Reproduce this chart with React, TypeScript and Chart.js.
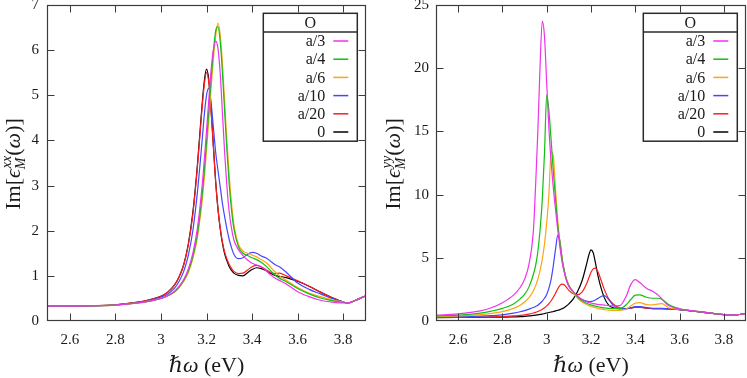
import React, { useEffect, useRef } from "react";
import { Chart, registerables } from "chart.js";

Chart.register(...registerables);

const SERIF = '"Liberation Serif", "DejaVu Serif", serif';

const seriesLabels = ["a/3", "a/4", "a/6", "a/10", "a/20", "0"];
const seriesColors = ["#ee33ee", "#11c011", "#ffa514", "#4646ff", "#ff1c1c", "#000000"];
const legendTitle = "O";

// ---------- left panel: Im[eps_M^xx] ----------
const xxEnergy = [2.5, 2.6, 2.7, 2.8, 2.9, 2.95, 3.0, 3.03, 3.06, 3.08, 3.1, 3.12, 3.14, 3.16, 3.18, 3.19, 3.2, 3.21, 3.22, 3.23, 3.24, 3.25, 3.26, 3.27, 3.28, 3.29, 3.3, 3.31, 3.32, 3.34, 3.36, 3.38, 3.4, 3.42, 3.44, 3.46, 3.48, 3.5, 3.52, 3.55, 3.6, 3.65, 3.7, 3.75, 3.8, 3.82, 3.85, 3.9];
const xxA3 = [0.33, 0.33, 0.335, 0.35, 0.4, 0.44, 0.5, 0.56, 0.66, 0.77, 0.92, 1.15, 1.5, 2.05, 2.95, 3.55, 4.2, 4.9, 5.55, 6.0, 6.2, 6.05, 5.5, 4.6, 3.7, 2.95, 2.4, 2.05, 1.8, 1.58, 1.45, 1.35, 1.28, 1.24, 1.2, 1.12, 1.03, 0.95, 0.9, 0.82, 0.65, 0.54, 0.46, 0.42, 0.4, 0.4, 0.45, 0.56];
const xxA4 = [0.33, 0.33, 0.335, 0.35, 0.4, 0.44, 0.5, 0.56, 0.65, 0.75, 0.9, 1.1, 1.42, 1.92, 2.75, 3.3, 3.95, 4.65, 5.35, 5.95, 6.42, 6.52, 6.2, 5.5, 4.6, 3.75, 3.0, 2.45, 2.05, 1.65, 1.5, 1.45, 1.4, 1.36, 1.3, 1.22, 1.12, 1.02, 0.95, 0.87, 0.72, 0.6, 0.51, 0.45, 0.41, 0.4, 0.45, 0.56];
const xxA6 = [0.33, 0.33, 0.335, 0.35, 0.4, 0.44, 0.5, 0.56, 0.64, 0.74, 0.88, 1.07, 1.38, 1.85, 2.62, 3.15, 3.78, 4.45, 5.15, 5.8, 6.3, 6.6, 6.35, 5.7, 4.8, 3.95, 3.2, 2.6, 2.15, 1.7, 1.55, 1.5, 1.46, 1.42, 1.36, 1.3, 1.2, 1.09, 1.0, 0.9, 0.74, 0.62, 0.54, 0.47, 0.42, 0.4, 0.45, 0.56];
const xxA10 = [0.33, 0.33, 0.34, 0.355, 0.41, 0.455, 0.53, 0.6, 0.73, 0.88, 1.1, 1.45, 2.0, 2.85, 3.95, 4.55, 5.0, 5.16, 4.85, 4.3, 3.75, 3.35, 2.98, 2.6, 2.3, 2.03, 1.8, 1.62, 1.48, 1.38, 1.4, 1.48, 1.52, 1.5, 1.44, 1.4, 1.33, 1.25, 1.2, 1.08, 0.84, 0.7, 0.6, 0.5, 0.42, 0.4, 0.45, 0.56];
const xxA20 = [0.33, 0.33, 0.34, 0.36, 0.42, 0.47, 0.55, 0.64, 0.8, 0.98, 1.24, 1.68, 2.36, 3.4, 4.68, 5.22, 5.5, 5.28, 4.65, 3.88, 3.1, 2.5, 2.07, 1.75, 1.52, 1.37, 1.25, 1.16, 1.1, 1.05, 1.06, 1.13, 1.2, 1.23, 1.2, 1.14, 1.08, 1.05, 1.06, 1.0, 0.89, 0.77, 0.64, 0.52, 0.42, 0.4, 0.45, 0.56];
const xxZero = [0.33, 0.33, 0.34, 0.36, 0.42, 0.47, 0.55, 0.64, 0.8, 0.98, 1.25, 1.7, 2.4, 3.45, 4.75, 5.3, 5.58, 5.35, 4.7, 3.9, 3.1, 2.5, 2.05, 1.72, 1.48, 1.33, 1.2, 1.12, 1.06, 1.01, 1.0, 1.07, 1.14, 1.18, 1.16, 1.12, 1.06, 1.01, 0.99, 0.96, 0.88, 0.77, 0.64, 0.52, 0.42, 0.4, 0.45, 0.56];

// ---------- right panel: Im[eps_M^yy] ----------
const yyEnergy = [2.5, 2.6, 2.7, 2.75, 2.8, 2.85, 2.88, 2.9, 2.92, 2.94, 2.95, 2.96, 2.97, 2.98, 2.99, 3.0, 3.01, 3.02, 3.03, 3.04, 3.05, 3.06, 3.07, 3.08, 3.09, 3.1, 3.12, 3.14, 3.16, 3.18, 3.19, 3.2, 3.21, 3.22, 3.23, 3.24, 3.26, 3.28, 3.3, 3.33, 3.36, 3.38, 3.4, 3.42, 3.45, 3.48, 3.5, 3.52, 3.55, 3.6, 3.65, 3.7, 3.75, 3.8, 3.85, 3.9];
const yyA3 = [0.47, 0.56, 0.8, 1.05, 1.45, 2.05, 2.65, 3.3, 4.5, 7.2, 10.8, 15.0, 20.2, 23.7, 22.5, 18.8, 15.2, 12.6, 10.5, 8.8, 7.2, 5.8, 4.6, 3.8, 3.15, 2.75, 2.3, 1.95, 1.7, 1.52, 1.46, 1.42, 1.38, 1.35, 1.32, 1.3, 1.26, 1.22, 1.2, 1.22, 2.0, 2.9, 3.28, 3.05, 2.6, 2.33, 2.1, 1.75, 1.22, 0.97, 0.82, 0.72, 0.6, 0.5, 0.48, 0.6];
const yyA4 = [0.4, 0.47, 0.62, 0.78, 1.0, 1.35, 1.75, 2.1, 2.7, 3.7, 4.4, 5.5, 7.2, 9.6, 13.3, 17.9, 16.6, 14.3, 11.8, 9.6, 7.6, 6.1, 4.8, 3.9, 3.25, 2.8, 2.3, 1.9, 1.6, 1.4, 1.33, 1.27, 1.22, 1.18, 1.14, 1.1, 1.04, 1.0, 0.98, 0.98, 1.3, 1.7, 2.05, 2.07, 1.88, 1.8, 1.8, 1.72, 1.3, 0.96, 0.82, 0.72, 0.6, 0.5, 0.48, 0.6];
const yyA6 = [0.35, 0.4, 0.5, 0.6, 0.74, 1.0, 1.25, 1.5, 1.85, 2.4, 2.8, 3.3, 4.0, 4.9, 6.1, 7.8, 10.0, 13.4, 13.0, 10.4, 7.9, 6.2, 4.9, 3.95, 3.3, 2.85, 2.25, 1.8, 1.5, 1.3, 1.22, 1.15, 1.1, 1.05, 1.0, 0.96, 0.9, 0.85, 0.83, 0.84, 0.95, 1.2, 1.42, 1.45, 1.3, 1.28, 1.33, 1.38, 1.05, 0.93, 0.82, 0.72, 0.6, 0.5, 0.48, 0.6];
const yyA10 = [0.3, 0.33, 0.38, 0.42, 0.48, 0.62, 0.73, 0.82, 0.94, 1.07, 1.15, 1.25, 1.4, 1.58, 1.8, 2.1, 2.6, 3.3, 4.4, 5.7, 6.8, 6.3, 4.9, 3.9, 3.2, 2.75, 2.3, 1.95, 1.7, 1.57, 1.54, 1.54, 1.58, 1.66, 1.77, 1.88, 2.0, 1.7, 1.25, 0.98, 0.98, 1.05, 1.13, 1.13, 1.06, 1.01, 1.0, 1.0, 0.96, 0.9, 0.8, 0.7, 0.6, 0.5, 0.48, 0.6];
const yyA20 = [0.28, 0.29, 0.31, 0.32, 0.34, 0.4, 0.44, 0.48, 0.55, 0.63, 0.68, 0.75, 0.83, 0.93, 1.05, 1.2, 1.38, 1.6, 1.88, 2.2, 2.55, 2.82, 2.92, 2.85, 2.65, 2.42, 2.15, 2.08, 2.3, 2.95, 3.4, 3.85, 4.12, 4.18, 3.95, 3.5, 2.5, 1.75, 1.35, 1.05, 0.98, 1.02, 1.08, 1.08, 1.02, 0.98, 0.97, 0.98, 0.96, 0.9, 0.8, 0.7, 0.6, 0.5, 0.48, 0.6];
const yyZero = [0.27, 0.28, 0.29, 0.3, 0.31, 0.33, 0.35, 0.37, 0.4, 0.44, 0.46, 0.49, 0.52, 0.55, 0.59, 0.63, 0.67, 0.71, 0.75, 0.8, 0.85, 0.9, 0.98, 1.07, 1.2, 1.35, 1.75, 2.35, 3.2, 4.5, 5.2, 5.63, 5.4, 4.6, 3.7, 2.95, 1.85, 1.25, 1.05, 0.98, 0.98, 1.03, 1.1, 1.1, 1.03, 0.98, 0.97, 0.98, 0.96, 0.9, 0.8, 0.7, 0.6, 0.5, 0.48, 0.6];

// ---------- axes ----------
const energyMin = 2.5;
const energyMax = 3.9;
const energyTicks = [2.6, 2.8, 3.0, 3.2, 3.4, 3.6, 3.8];
const xxMax = 7;
const xxTicks = [0, 1, 2, 3, 4, 5, 6, 7];
const yyMax = 25;
const yyTicks = [0, 5, 10, 15, 20, 25];

function fmtTick(v: number) {
  return String(Math.round(v * 10) / 10);
}

function drawYTitle(ctx: CanvasRenderingContext2D, baseX: number, cy: number, sup: string) {
  const big = 22;
  const small = 14;
  const up = `${big}px ${SERIF}`;
  const it = `italic ${big}px ${SERIF}`;
  const sIt = `italic ${small}px ${SERIF}`;
  ctx.save();
  ctx.translate(baseX, cy);
  ctx.rotate(-Math.PI / 2);
  ctx.fillStyle = "#1a1a1a";
  ctx.textBaseline = "alphabetic";
  ctx.textAlign = "left";
  const w = (t: string, f: string) => {
    ctx.font = f;
    return ctx.measureText(t).width;
  };
  const wSup = w(sup, sIt);
  const wSub = w("M", sIt);
  const stackW = Math.max(wSup, wSub) + 1;
  const pieces: [string, string][] = [["Im[", up], ["\u03F5", it]];
  const tail: [string, string][] = [["(", up], ["\u03C9", it], [")]", up]];
  let total = 0;
  pieces.forEach(([t, f]) => (total += w(t, f)));
  total += stackW;
  tail.forEach(([t, f]) => (total += w(t, f)));
  let x = -total / 2;
  pieces.forEach(([t, f]) => {
    ctx.font = f;
    ctx.fillText(t, x, 0);
    x += ctx.measureText(t).width;
  });
  ctx.font = sIt;
  ctx.fillText(sup, x + 1, -9);
  ctx.fillText("M", x, 5);
  x += stackW;
  tail.forEach(([t, f]) => {
    ctx.font = f;
    ctx.fillText(t, x, 0);
    x += ctx.measureText(t).width;
  });
  ctx.restore();
}

function drawXTitle(ctx: CanvasRenderingContext2D, cx: number, baseY: number) {
  const f1 = `italic 22px ${SERIF}`;
  const f2 = `22px ${SERIF}`;
  const t1 = "\u210F\u03C9";
  const t2 = " (eV)";
  ctx.save();
  ctx.fillStyle = "#1a1a1a";
  ctx.textBaseline = "alphabetic";
  ctx.textAlign = "left";
  ctx.font = f1;
  const w1 = ctx.measureText(t1).width;
  ctx.font = f2;
  const w2 = ctx.measureText(t2).width;
  const x = cx - (w1 + w2) / 2;
  ctx.font = f1;
  ctx.fillText(t1, x, baseY);
  ctx.font = f2;
  ctx.fillText(t2, x + w1, baseY);
  ctx.restore();
}

const gnuplotPlugin = {
  id: "gnuplotFrame",
  afterDraw(chart: any, _args: any, opts: any) {
    const { ctx, chartArea: a } = chart;
    const xs = chart.scales.x;
    const ys = chart.scales.y;
    const L = Math.round(a.left) + 0.5;
    const R = Math.round(a.right) - 0.5;
    const T = Math.round(a.top) + 0.5;
    const B = Math.round(a.bottom) - 0.5;
    const tick = 7;
    ctx.save();
    ctx.strokeStyle = "#3c3c3c";
    ctx.lineWidth = 1;
    ctx.beginPath();
    xs.ticks.forEach((t: any) => {
      if (Math.abs(t.value - xs.min) < 1e-6 || Math.abs(t.value - xs.max) < 1e-6) return;
      const p = Math.round(xs.getPixelForValue(t.value)) + 0.5;
      ctx.moveTo(p, B);
      ctx.lineTo(p, B - tick);
      ctx.moveTo(p, T);
      ctx.lineTo(p, T + tick);
    });
    ys.ticks.forEach((t: any) => {
      if (Math.abs(t.value - ys.min) < 1e-6 || Math.abs(t.value - ys.max) < 1e-6) return;
      const p = Math.round(ys.getPixelForValue(t.value)) + 0.5;
      ctx.moveTo(L, p);
      ctx.lineTo(L + tick, p);
      ctx.moveTo(R, p);
      ctx.lineTo(R - tick, p);
    });
    ctx.stroke();
    ctx.lineWidth = 1.2;
    ctx.strokeRect(L, T, R - L, B - T);

    // legend box
    const bw = 94;
    const headH = 18.7;
    const rowH = 18.2;
    const n = chart.data.datasets.length;
    const bx = R - 8.2 - bw;
    const by = T + 7.8;
    const bh = headH + n * rowH;
    ctx.fillStyle = "#ffffff";
    ctx.fillRect(bx, by, bw, bh);
    ctx.strokeStyle = "#2a2a2a";
    ctx.lineWidth = 1.5;
    ctx.strokeRect(bx, by, bw, bh);
    ctx.beginPath();
    ctx.moveTo(bx, by + headH);
    ctx.lineTo(bx + bw, by + headH);
    ctx.stroke();
    ctx.fillStyle = "#1a1a1a";
    ctx.font = `16px ${SERIF}`;
    ctx.textBaseline = "middle";
    ctx.textAlign = "center";
    ctx.fillText(opts.title, bx + bw / 2, by + headH / 2 + 1);
    ctx.textAlign = "right";
    chart.data.datasets.forEach((ds: any, i: number) => {
      const cy = by + headH + 9 + i * rowH;
      ctx.fillStyle = "#1a1a1a";
      ctx.fillText(ds.label, bx + 62, cy + 1);
      ctx.strokeStyle = ds.borderColor;
      ctx.lineWidth = 1.5;
      ctx.beginPath();
      ctx.moveTo(bx + 70, cy);
      ctx.lineTo(bx + 85, cy);
      ctx.stroke();
    });
    ctx.restore();

    drawYTitle(ctx, 20, (a.top + a.bottom) / 2 + 1, opts.sup);
    drawXTitle(ctx, (a.left + a.right) / 2, a.bottom + 51);
  },
};

function buildConfig(
  energies: number[],
  values: number[][],
  yMax: number,
  yTicks: number[],
  axisW: number,
  padRight: number,
  labelPad: number,
  sup: string
): any {
  const tickFont = { family: SERIF, size: 15 };
  const zeroPad = (s: any) => {
    s.paddingLeft = 0;
    s.paddingRight = 0;
    s.paddingTop = 0;
    s.paddingBottom = 0;
  };
  return {
    type: "line",
    data: {
      datasets: values.map((arr, i) => ({
        label: seriesLabels[i],
        data: energies.map((x, j) => ({ x, y: arr[j] })),
        borderColor: seriesColors[i],
        backgroundColor: seriesColors[i],
        borderWidth: 1.2,
        pointRadius: 0,
        fill: false,
        cubicInterpolationMode: "monotone",
      })),
    },
    options: {
      responsive: false,
      maintainAspectRatio: false,
      animation: false,
      layout: { padding: { left: 0, right: padRight, top: 5, bottom: 0 } },
      plugins: {
        legend: { display: false },
        tooltip: { enabled: false },
        gnuplotFrame: { sup, title: legendTitle },
      },
      scales: {
        x: {
          type: "linear",
          min: energyMin,
          max: energyMax,
          grid: { display: false, drawTicks: false },
          border: { display: false },
          afterBuildTicks: (s: any) => {
            s.ticks = energyTicks.map((v) => ({ value: v }));
          },
          ticks: {
            autoSkip: false,
            maxRotation: 0,
            padding: 10,
            color: "#1a1a1a",
            font: tickFont,
            callback: (v: number) => fmtTick(v),
          },
          afterFit: (s: any) => {
            s.height = 57;
            zeroPad(s);
          },
        },
        y: {
          type: "linear",
          min: 0,
          max: yMax,
          grid: { display: false, drawTicks: false },
          border: { display: false },
          afterBuildTicks: (s: any) => {
            s.ticks = yTicks.map((v) => ({ value: v }));
          },
          ticks: {
            autoSkip: false,
            padding: labelPad,
            color: "#1a1a1a",
            font: tickFont,
            callback: (v: number) => fmtTick(v),
          },
          afterFit: (s: any) => {
            s.width = axisW;
            zeroPad(s);
          },
        },
      },
    },
    plugins: [gnuplotPlugin],
  };
}

export default function App() {
  const leftRef = useRef<HTMLCanvasElement | null>(null);
  const rightRef = useRef<HTMLCanvasElement | null>(null);

  useEffect(() => {
    const left = new Chart(
      leftRef.current as HTMLCanvasElement,
      buildConfig(xxEnergy, [xxA3, xxA4, xxA6, xxA10, xxA20, xxZero], xxMax, xxTicks, 47, 14, 8, "xx")
    );
    const right = new Chart(
      rightRef.current as HTMLCanvasElement,
      buildConfig(yyEnergy, [yyA3, yyA4, yyA6, yyA10, yyA20, yyZero], yyMax, yyTicks, 56, 1, 7, "yy")
    );
    return () => {
      left.destroy();
      right.destroy();
    };
  }, []);

  return (
    <div style={{ position: "fixed", left: 0, top: 0, width: 747, height: 378, background: "#ffffff" }}>
      <canvas ref={leftRef} width={380} height={378} style={{ position: "absolute", left: 0, top: 0 }} />
      <canvas ref={rightRef} width={367} height={378} style={{ position: "absolute", left: 380, top: 0 }} />
    </div>
  );
}
